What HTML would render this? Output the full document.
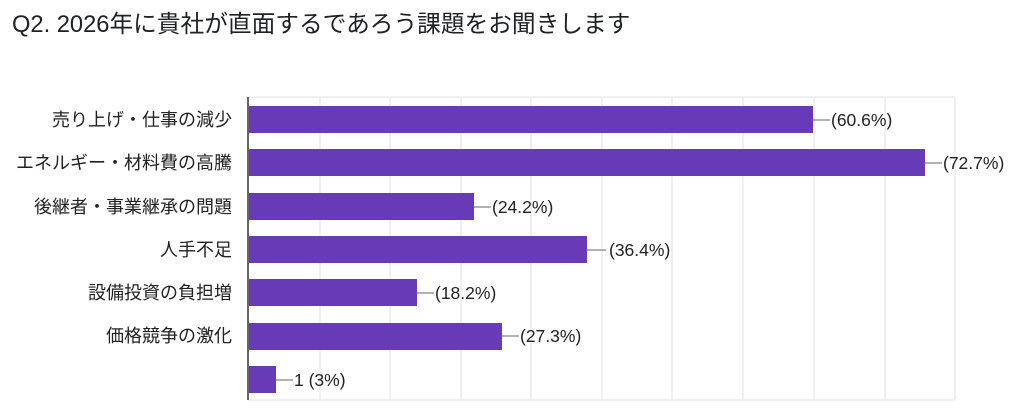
<!DOCTYPE html>
<html><head><meta charset="utf-8"><style>
body{margin:0;width:1024px;height:409px;background:#fff;overflow:hidden;font-family:"Liberation Sans","Noto Sans CJK JP",sans-serif;}
</style></head><body>
<svg width="1024" height="409" xmlns="http://www.w3.org/2000/svg" font-family="Liberation Sans, Noto Sans CJK JP, sans-serif">
<text x="12" y="32" font-size="23.7" fill="#202124">Q2. 2026年に貴社が直面するであろう課題をお聞きします</text>
<g stroke="#ebebeb" stroke-width="1.5">
<line x1="320" y1="97" x2="320" y2="400"/><line x1="390" y1="97" x2="390" y2="400"/><line x1="461" y1="97" x2="461" y2="400"/><line x1="531" y1="97" x2="531" y2="400"/><line x1="602" y1="97" x2="602" y2="400"/><line x1="672" y1="97" x2="672" y2="400"/><line x1="743" y1="97" x2="743" y2="400"/><line x1="814" y1="97" x2="814" y2="400"/><line x1="885" y1="97" x2="885" y2="400"/><line x1="955" y1="97" x2="955" y2="400"/>
<line x1="248" y1="97" x2="955" y2="97"/><line x1="248" y1="400" x2="955" y2="400"/>
</g>
<g fill="#673ab7">
<rect x="249" y="106" width="564" height="27"/>
<rect x="249" y="149" width="676" height="27"/>
<rect x="249" y="193" width="225" height="27"/>
<rect x="249" y="236" width="338" height="27"/>
<rect x="249" y="279" width="168" height="27"/>
<rect x="249" y="323" width="253" height="27"/>
<rect x="249" y="366" width="27" height="27"/>
</g>
<line x1="248" y1="97" x2="248" y2="400" stroke="#333" stroke-width="1.5"/>
<g stroke="#999" stroke-width="1.5">
<line x1="813" y1="120" x2="830" y2="120"/><line x1="925" y1="163" x2="942" y2="163"/><line x1="474" y1="207" x2="491" y2="207"/><line x1="587" y1="250" x2="606" y2="250"/><line x1="417" y1="293" x2="434" y2="293"/><line x1="502" y1="336" x2="519" y2="336"/><line x1="276" y1="380" x2="293" y2="380"/>
</g>
<g font-size="17.5" fill="#222">
<text x="831" y="126">(60.6%)</text><text x="943" y="169">(72.7%)</text><text x="492" y="213">(24.2%)</text><text x="609" y="256">(36.4%)</text><text x="435" y="299">(18.2%)</text><text x="520" y="342">(27.3%)</text><text x="294" y="386">1 (3%)</text>
</g>
<g font-size="18" fill="#222" text-anchor="end">
<text x="232" y="126">売り上げ・仕事の減少</text><text x="232" y="169">エネルギー・材料費の高騰</text><text x="232" y="213">後継者・事業継承の問題</text><text x="232" y="256">人手不足</text><text x="232" y="299">設備投資の負担増</text><text x="232" y="342">価格競争の激化</text>
</g>
</svg>
</body></html>
